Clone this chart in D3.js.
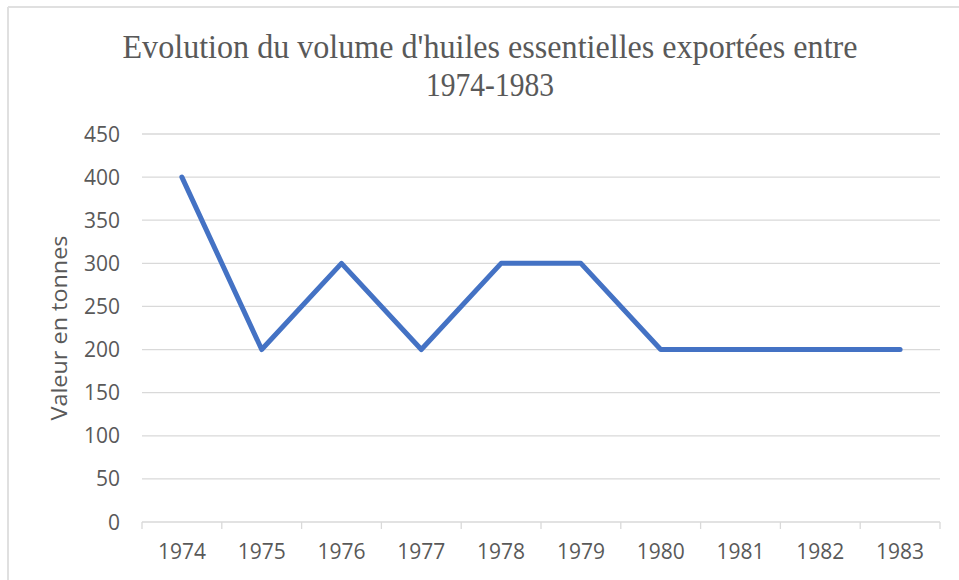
<!DOCTYPE html>
<html><head><meta charset="utf-8">
<script src="https://cdn.jsdelivr.net/npm/d3@7"></script>
<style>body{margin:0;background:#fff}svg{display:block}</style>
</head><body><svg id="c" width="959" height="580"></svg>
<script>
const years = ["1974","1975","1976","1977","1978","1979","1980","1981","1982","1983"];
const values = [400,200,300,200,300,300,200,200,200,200];
const yTicks = [0,50,100,150,200,250,300,350,400,450];
const titleLines = ["Evolution du volume d'huiles essentielles exportées entre","1974-1983"];
const yTitle = "Valeur en tonnes";

const svg = d3.select("#c");
const m = {l:142, r:940, t:134, b:522};
// frame edges
svg.append("line").attr("x1",8).attr("x2",959).attr("y1",7).attr("y2",7).attr("stroke","#e0e0e0").attr("stroke-width",2);
svg.append("line").attr("x1",8).attr("x2",8).attr("y1",7).attr("y2",580).attr("stroke","#e0e0e0").attr("stroke-width",2);

const x = d3.scaleBand().domain(years).range([m.l,m.r]);
const y = d3.scaleLinear().domain([0,450]).range([m.b,m.t]);

// gridlines
svg.append("g").selectAll("line").data(yTicks.filter(d=>d>0)).join("line")
  .attr("x1",m.l).attr("x2",m.r).attr("y1",d=>y(d)).attr("y2",d=>y(d))
  .attr("stroke","#d9d9d9").attr("stroke-width",1.3);

// y labels
svg.append("g").selectAll("text").data(yTicks).join("text")
  .attr("x",120).attr("y",d=>y(d)).attr("dy","0.36em").attr("text-anchor","end")
  .attr("font-family","Open Sans, sans-serif").attr("font-size",21).attr("fill","#595959")
  .text(d=>d);

// x axis
const xa = svg.append("g").attr("transform",`translate(0,${m.b})`)
  .call(d3.axisBottom(x).tickSize(0).tickPadding(22));
xa.select(".domain").remove();
xa.selectAll("text").attr("font-family","Open Sans, sans-serif").attr("font-size",21).attr("fill","#595959");
svg.append("line").attr("x1",m.l).attr("x2",m.r).attr("y1",m.b).attr("y2",m.b).attr("stroke","#d9d9d9").attr("stroke-width",1.3);
const bounds = years.map(d=>x(d)).concat([m.r]);
svg.append("g").selectAll("line").data(bounds).join("line")
  .attr("x1",d=>d).attr("x2",d=>d).attr("y1",m.b).attr("y2",m.b+7)
  .attr("stroke","#d9d9d9").attr("stroke-width",1.3);

// line
const line = d3.line().x((d,i)=>x(years[i])+x.bandwidth()/2).y(d=>y(d));
svg.append("path").datum(values).attr("d",line).attr("fill","none")
  .attr("stroke","#4472c4").attr("stroke-width",5).attr("stroke-linejoin","round").attr("stroke-linecap","round");

// title
const tl = [735,128];
svg.append("g").selectAll("text").data(titleLines).join("text")
  .attr("x",490).attr("y",(d,i)=>58+i*38).attr("text-anchor","middle")
  .attr("font-family","Liberation Serif, serif").attr("font-size",33).attr("fill","#595959")
  .attr("textLength",(d,i)=>tl[i]).attr("lengthAdjust","spacingAndGlyphs")
  .text(d=>d);

// y title
svg.append("text").attr("transform","translate(67,328) rotate(-90)").attr("text-anchor","middle")
  .attr("font-family","Open Sans, sans-serif").attr("font-size",21).attr("fill","#595959")
  .attr("textLength",185).attr("lengthAdjust","spacingAndGlyphs").text(yTitle);
</script></body></html>
